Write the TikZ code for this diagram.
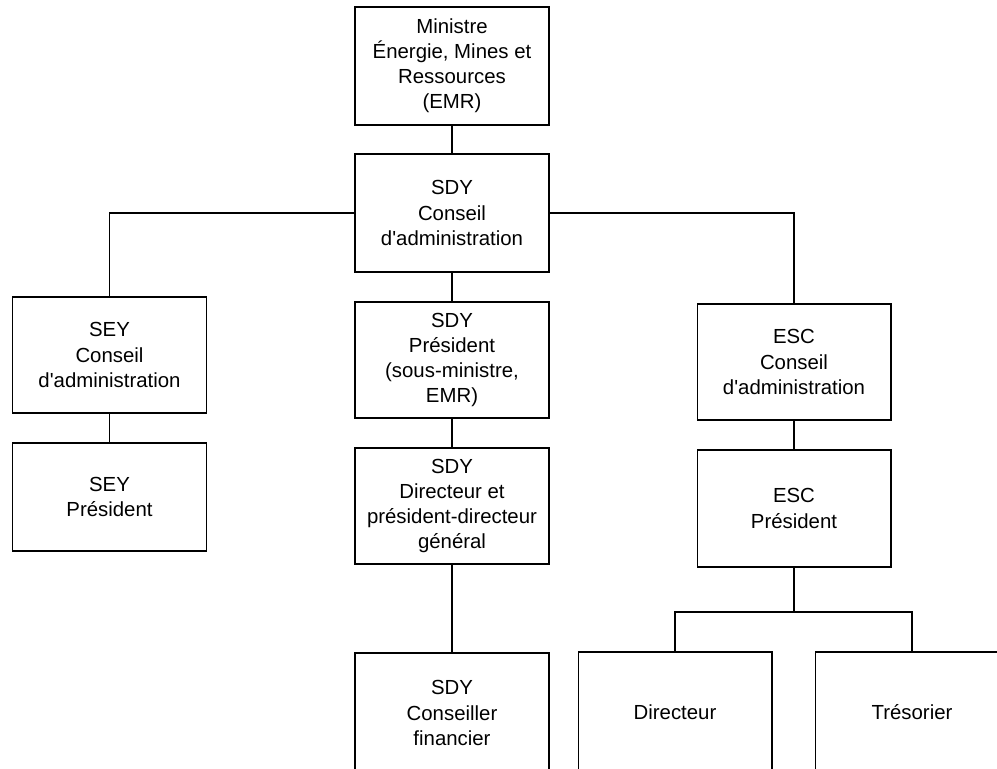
\documentclass[tikz,border=0pt]{standalone}
\usepackage{fontspec}
\setmainfont{Liberation Sans}
\usetikzlibrary{positioning}

\begin{document}
\begin{tikzpicture}[x=0.02cm,y=-0.02cm,line width=0.6pt,
    boite/.style={draw,align=center,minimum width=3.88cm,inner sep=2pt,
      font=\fontsize{11.6}{14.3}\selectfont}]
                \useasboundingbox (0,0) rectangle (997,768);
                % niveau ministre / SDY
                \node[boite,minimum height=2.36cm] (min) at (452,66) {Ministre\\\'Energie, Mines et\\Ressources\\(EMR)};
                \node[boite,minimum height=2.36cm] (sdyca) at (452,213) {SDY\\Conseil\\d\textquotesingle administration};
                % colonne SEY
                \node[boite,minimum height=2.32cm] (seyca) at (109.5,355) {SEY\\Conseil\\d\textquotesingle administration};
                \node[boite,minimum height=2.16cm] (seyp) at (109.5,497) {SEY\\Pr\'esident};
                % colonne SDY
                \node[boite,minimum height=2.32cm] (sdyp) at (452,360) {SDY\\Pr\'esident\\(sous-ministre,\\EMR)};
                \node[boite,minimum height=2.32cm] (sdyd) at (452,506) {SDY\\Directeur et\\pr\'esident-directeur\\g\'en\'eral};
                \node[boite,minimum height=2.4cm] (sdycf) at (452,713) {SDY\\Conseiller\\financier};
                % colonne ESC
                \node[boite,minimum height=2.32cm] (escca) at (794,362) {ESC\\Conseil\\d\textquotesingle administration};
                \node[boite,minimum height=2.34cm] (escp) at (794,508.5) {ESC\\Pr\'esident};
                \node[boite,minimum height=2.4cm] (dir) at (675,712) {Directeur};
                \node[boite,minimum height=2.4cm] (tres) at (912,712) {Tr\'esorier};
                \coordinate (fourche) at (794,612);
                % liaisons
                \draw (min) -- (sdyca);
                \draw (sdyca.west) -| (seyca.north);
                \draw (sdyca.east) -| (escca.north);
                \draw (seyca) -- (seyp);
                \draw (sdyca) -- (sdyp);
                \draw (sdyp) -- (sdyd);
                \draw (sdyd) -- (sdycf);
                \draw (escca) -- (escp);
                \draw (escp) -- (fourche);
                \draw (dir.north) |- (fourche) -| (tres.north);
            \end{tikzpicture}
\end{document}
